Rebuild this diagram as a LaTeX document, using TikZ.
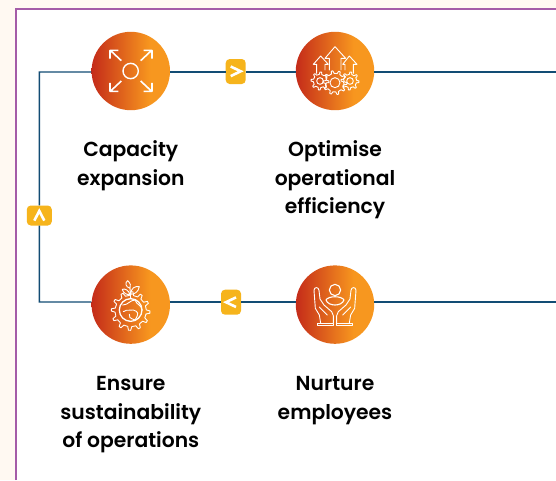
\documentclass[tikz,border=0pt]{standalone}
\usepackage{fontspec}
\setmainfont{Poppins}[BoldFont={* SemiBold}]
\definecolor{cream}{HTML}{FFF9F2}
\definecolor{frame}{HTML}{A45CA8}
\definecolor{flow}{HTML}{124C74}
\definecolor{badge}{HTML}{F6B41C}
\pgfdeclarehorizontalshading{orangegrad}{100bp}{rgb(0bp)=(0.77,0.17,0.10);rgb(25bp)=(0.77,0.17,0.10);rgb(62bp)=(0.97,0.59,0.12);rgb(100bp)=(0.97,0.60,0.12)}
\tikzset{
  disc/.style={circle,minimum size=78.4pt,inner sep=0pt,shading=orangegrad},
  badgebox/.style={fill=badge,rounded corners=4pt,inner sep=0pt},
  chev/.style={white,line width=2.6pt,miter limit=10},
  lbl/.style={align=center,font=\bfseries\fontsize{20.3}{28.6}\selectfont,text=black},
  link/.style={flow,line width=1.4pt},
  ico/.style={white,line width=1.1pt,line join=round,line cap=round},
  icothin/.style={white,line width=.9pt,line join=round,line cap=round},
  zoomA/.style={shift={(80,20)},x=.3333pt,y=-.3333pt},
  zoomB/.style={shift={(280,20)},x=.3333pt,y=-.3333pt},
  zoomC/.style={shift={(80,255)},x=.3333pt,y=-.3333pt},
  zoomD/.style={shift={(280,255)},x=.3333pt,y=-.3333pt},
}
\newcommand{\gearshape}[5]{% cx cy outer inner teeth
  \begin{scope}[shift={(#1,#2)}]
    \pgfmathsetmacro{\stepang}{360/#5}
    \draw[icothin] (0:#3) \foreach \k in {1,...,#5}{
      -- ({(\k-1)*\stepang+.22*\stepang}:#3)
      -- ({(\k-1)*\stepang+.36*\stepang}:#4)
      -- ({(\k-1)*\stepang+.86*\stepang}:#4)
      -- ({\k*\stepang-.0*\stepang}:#3)
    } -- cycle;
  \end{scope}}
\begin{document}
\begin{tikzpicture}[x=1pt,y=-1pt]
\useasboundingbox (0,0) rectangle (556,480);
\fill[cream] (0,0) rectangle (556,480);
\fill[white] (16,9) rectangle (556,480);
\draw[frame,line width=2.3pt] (16,480) -- (16,9) -- (556,9);

\node[disc] (c1) at (130.8,71) {};
\node[disc] (c2) at (335,71) {};
\node[disc] (c3) at (130.8,304.6) {};
\node[disc] (c4) at (335,304.6) {};
\node[badgebox,minimum width=20pt,minimum height=25pt] (b1) at (235.7,71.5) {};
\node[badgebox,minimum width=20pt,minimum height=25pt] (b3) at (231,302.2) {};
\node[badgebox,minimum width=25pt,minimum height=20pt] (b4) at (39.3,215.5) {};
\coordinate (tl) at (39.4,72);
\coordinate (bl) at (39.4,302);
\coordinate (tr) at (556,72);
\coordinate (br) at (556,302);

\draw[link] (tl -| c1.west) -- (tl) -- (b4) -- (bl) -- (bl -| c3.west);
\draw[link] (tl -| c1.east) -- (tl -| b1.west);
\draw[link] (tl -| b1.east) -- (tl -| c2.west);
\draw[link] (tl -| c2.east) -- (tr);
\draw[link] (bl -| c3.east) -- (bl -| b3.west);
\draw[link] (bl -| b3.east) -- (bl -| c4.west);
\draw[link] (bl -| c4.east) -- (br);

% chevrons
\draw[chev] (230.7,66.5) -- (240.7,71.3) -- (230.7,76.1);
\draw[chev] (236,297.4) -- (226,302.2) -- (236,307);
\draw[chev] (34.3,220.6) -- (39.3,211) -- (44.3,220.6);

% icon 1
\begin{scope}[zoomA]
  \draw[ico,line width=1.4pt] (152,153) circle (23);
  \draw[ico,line width=1.6pt,line cap=butt] (124,122) -- (92,92) (90,116) -- (90,91) -- (115,91);
  \draw[ico,line width=1.6pt,line cap=butt] (182,122) -- (214,92) (216,116) -- (216,91) -- (191,91);
  \draw[ico,line width=1.6pt,line cap=butt] (124,183) -- (92,213) (90,189) -- (90,214) -- (115,214);
  \draw[ico,line width=1.6pt,line cap=butt] (182,183) -- (214,213) (216,189) -- (216,214) -- (191,214);
\end{scope}

% icon 2
\begin{scope}[zoomB]
  \draw[icothin] (148,150) -- (148,115) -- (135,115) -- (165,80) -- (197,115) -- (183,115) -- (183,150);
  \draw[icothin] (110,160) -- (110,133) -- (100,133) -- (122,108) -- (145,133) -- (135,133) -- (135,150);
  \draw[icothin] (195,150) -- (195,133) -- (188,133) -- (208,108) -- (231,133) -- (220,133) -- (220,160);
  \gearshape{165}{188}{36}{28}{10}
  \gearshape{120}{183}{27}{20}{8}
  \gearshape{210}{183}{27}{20}{8}
  \draw[icothin] (165,188) circle (15) (120,183) circle (10) (210,183) circle (10);
\end{scope}

% icon 3
\begin{scope}[zoomC]
  \gearshape{152}{168}{58}{47}{12}
  \draw[ico,line width=1.3pt] (152,165) circle (34);
  \draw[icothin] (128,150) .. controls (145,150) and (150,135) .. (165,135) .. controls (170,150) and (185,150) .. (186,165);
  \draw[icothin] (130,170) .. controls (145,160) and (150,170) .. (160,165) .. controls (175,170) and (178,175) .. (165,195) .. controls (150,190) and (145,185) .. (148,178);
  \draw[icothin] (152,131) -- (150,100);
  \draw[icothin] (150,100) .. controls (135,95) and (135,82) .. (143,77) .. controls (152,85) and (153,92) .. (150,100);
  \draw[icothin] (152,118) .. controls (152,100) and (165,92) .. (178,95) .. controls (175,110) and (165,118) .. (152,118);
  \draw[icothin] (150,118) .. controls (145,105) and (135,100) .. (127,103) .. controls (130,115) and (140,120) .. (150,118);
\end{scope}

% icon 4
\begin{scope}[zoomD]
  \draw[ico] (165,105) circle (17);
  \draw[ico] (138,135) .. controls (145,122) and (185,122) .. (192,135) .. controls (185,155) and (145,155) .. (138,135) -- cycle;
  \draw[icothin] (112,212) -- (160,212) -- (160,204) -- (112,204) -- cycle;
  \draw[icothin] (218,212) -- (170,212) -- (170,204) -- (218,204) -- cycle;
  \draw[icothin] (122,204) -- (118,180) -- (106,160) -- (102,106) .. controls (102,95) and (116,95) .. (117,106) -- (120,132) -- (132,150) -- (155,170) -- (160,182) -- (160,204);
  \draw[icothin] (208,204) -- (212,180) -- (224,160) -- (228,106) .. controls (228,95) and (214,95) .. (213,106) -- (210,132) -- (198,150) -- (175,170) -- (170,182) -- (170,204);
  \draw[icothin] (118,156) -- (142,180) (212,156) -- (188,180);
\end{scope}

\node[lbl] (t1) at (130.8,165.6) {Capacity\\expansion};
\node[lbl] (t2) at (335,180) {Optimise\\operational\\efficiency};
\node[lbl] (t3) at (130.8,414.8) {Ensure\\sustainability\\of operations};
\node[lbl] (t4) at (335,400.5) {Nurture\\employees};
\end{tikzpicture}
\end{document}
